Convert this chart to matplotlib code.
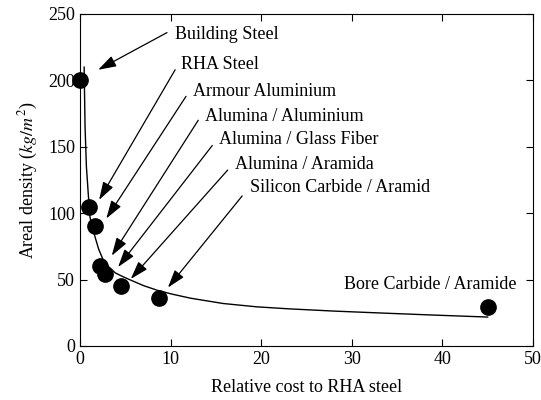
import matplotlib
matplotlib.use("Agg")
import matplotlib.pyplot as plt

plt.rcParams['font.family'] = ['Liberation Serif', 'DejaVu Serif']
plt.rcParams['mathtext.fontset'] = 'stix'

# Data points
materials = ["Building Steel", "RHA Steel", "Armour Aluminium", "Alumina / Aluminium",
             "Alumina / Glass Fiber", "Alumina / Aramida", "Silicon Carbide / Aramid",
             "Bore Carbide / Aramide"]
rel_cost = [0.0, 1.0, 1.65, 2.2, 2.75, 4.5, 8.7, 45.0]
areal_density = [200, 105, 90, 60, 54, 45, 36, 29]

# Trend curve
curve_x = [0.45, 0.55, 0.7, 0.9, 1.1, 1.35, 1.66, 2.05, 2.54, 3.1, 3.9, 4.8, 5.8,
           7.0, 8.5, 10.2, 12.2, 15.8, 19.5, 23.0, 28.0, 33.0, 39.0, 45.0]
curve_y = [210, 165, 135, 115, 97, 89, 82, 73, 65, 60, 55, 52, 49,
           45.5, 42, 39, 36, 32, 29.5, 28, 26.3, 24.9, 23.3, 21.8]

# Label positions (text anchor) and arrow starts/ends
label_xy = [(10.5, 234.5), (11.1, 212), (12.5, 192), (13.8, 173), (15.3, 155.6),
            (17.1, 137), (18.8, 119)]
arrow_start = [(9.6, 236), (10.5, 208), (11.7, 188), (13.05, 170), (14.6, 151),
               (16.3, 132.5), (17.9, 113)]
arrow_end = [(2.0, 208), (2.1, 110), (2.9, 96), (3.5, 68), (4.2, 59.5),
             (5.6, 50.5), (9.7, 44)]
last_label_xy = (48.2, 46)

FS = 13

fig = plt.figure(figsize=(5.41, 4.0), dpi=100)
ax = fig.add_axes([0.148, 0.135, 0.837, 0.83])

ax.plot(curve_x, curve_y, color='black', lw=1.0)
ax.plot(rel_cost, areal_density, 'o', color='black', ms=11, clip_on=False, zorder=5)

for name, txy, s, e in zip(materials[:-1], label_xy, arrow_start, arrow_end):
    ax.text(txy[0], txy[1], name, fontsize=FS, ha='left', va='center')
    ax.annotate('', xy=e, xytext=s,
                arrowprops=dict(arrowstyle='-|>,head_length=1.1,head_width=0.35',
                                color='black', lw=0.9, shrinkA=0, shrinkB=0))
ax.text(last_label_xy[0], last_label_xy[1], materials[-1], fontsize=FS,
        ha='right', va='center')

ax.set_xlim(0, 50)
ax.set_ylim(0, 250)
ax.set_xticks([0, 10, 20, 30, 40, 50])
ax.set_yticks([0, 50, 100, 150, 200, 250])
ax.tick_params(direction='in', top=True, right=True, labelsize=FS, length=5, width=0.8)
ax.set_xlabel('Relative cost to RHA steel', fontsize=FS, labelpad=8)
ax.set_ylabel('Areal density ($kg/m^2$)', fontsize=FS, labelpad=6)
for sp in ax.spines.values():
    sp.set_linewidth(0.8)

fig.savefig('out.png', dpi=100)
